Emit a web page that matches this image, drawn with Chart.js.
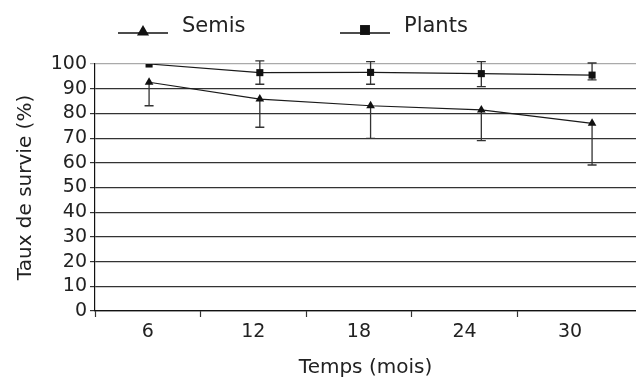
<!DOCTYPE html>
<html>
<head>
<meta charset="utf-8">
<script src="https://cdn.jsdelivr.net/npm/chart.js@4"></script>
<style>
  html, body { margin: 0; padding: 0; background: #fff; overflow: hidden; }
</style>
</head>
<body>
<canvas id="myChart" width="641" height="380"></canvas>
<script>
// values
const months = [6, 12, 18, 24, 30];
const semis = [92.6, 85.8, 83.1, 81.4, 76.0];
const semisLow = [83.1, 74.4, 69.9, 69.0, 59.1];
const plants = [100, 96.5, 96.6, 96.1, 95.5];
const plantsLow = [null, 91.8, 91.8, 90.8, 93.6];
const plantsHigh = [null, 101.3, 101.0, 101.0, 100.4];
const yTicks = [0, 10, 20, 30, 40, 50, 60, 70, 80, 90, 100];

const FONT = "'DejaVu Sans', sans-serif";
const INK = '#222';

// error bars, drawn through the chart scales
const errorBars = {
  id: 'errorBars',
  beforeDatasetsDraw(chart) {
    const ctx = chart.ctx;
    const xs = chart.scales.xd, ys = chart.scales.y;
    const bars = [
      { low: semisLow, high: semis },
      { low: plantsLow, high: plantsHigh }
    ];
    ctx.save();
    ctx.strokeStyle = '#333';
    ctx.lineWidth = 1.3;
    bars.forEach(b => {
      months.forEach((m, i) => {
        if (b.low[i] == null) return;
        const x = xs.getPixelForValue(m);
        const y0 = ys.getPixelForValue(b.low[i]);
        const y1 = ys.getPixelForValue(b.high[i]);
        ctx.beginPath();
        ctx.moveTo(x, y0); ctx.lineTo(x, y1);
        ctx.moveTo(x - 4.5, y0); ctx.lineTo(x + 4.5, y0);
        if (b.high !== semis) { ctx.moveTo(x - 4.5, y1); ctx.lineTo(x + 4.5, y1); }
        ctx.stroke();
      });
    });
    ctx.restore();
  }
};

// legend: line + marker + label, as in the figure
const lineLegend = {
  id: 'lineLegend',
  afterDraw(chart) {
    const ctx = chart.ctx;
    const items = [
      { ds: chart.data.datasets[0], x: 118, my: 32 },
      { ds: chart.data.datasets[1], x: 340, my: 30 }
    ];
    ctx.save();
    items.forEach(it => {
      ctx.strokeStyle = '#111';
      ctx.lineWidth = 1.3;
      ctx.beginPath();
      ctx.moveTo(it.x, 33); ctx.lineTo(it.x + 50, 33);
      ctx.stroke();
      ctx.fillStyle = '#111';
      Chart.helpers.drawPoint(ctx, { pointStyle: it.ds.pointStyle, radius: 7, borderWidth: 0 }, it.x + 25, it.my);
      ctx.fillStyle = INK;
      ctx.font = '21px ' + FONT;
      ctx.textBaseline = 'alphabetic';
      ctx.fillText(it.ds.label, it.x + 64, 32);
    });
    ctx.restore();
  }
};

const dataChart = {
  datasets: [{
    label: 'Semis',
    data: months.map((m, i) => ({ x: m, y: semis[i] })),
    xAxisID: 'xd',
    borderColor: '#1a1a1a',
    borderWidth: 1.2,
    pointStyle: 'triangle',
    pointRadius: 5,
    pointBackgroundColor: '#111',
    pointBorderWidth: 0
  }, {
    label: 'Plants',
    data: months.map((m, i) => ({ x: m, y: plants[i] })),
    xAxisID: 'xd',
    borderColor: '#1a1a1a',
    borderWidth: 1.2,
    pointStyle: 'rect',
    pointRadius: 5,
    pointBackgroundColor: '#111',
    pointBorderWidth: 0
  }]
};

const config = {
  type: 'line',
  data: dataChart,
  options: {
    responsive: false,
    animation: false,
    events: [],
    layout: { padding: { top: 64, right: 0, bottom: 0, left: 0 } },
    plugins: { legend: { display: false }, tooltip: { enabled: false } },
    scales: {
      xd: {
        type: 'linear',
        display: false,
        min: 3.07,
        max: 32.38
      },
      x: {
        type: 'linear',
        position: 'bottom',
        min: 3,
        max: 33.75,
        afterFit: s => { s.height = 69; },
        afterBuildTicks: s => {
          const t = [];
          months.forEach(m => { t.push({ value: m - 3 }); t.push({ value: m }); });
          s.ticks = t;
        },
        border: { display: true, color: '#111', width: 1.2 },
        grid: {
          drawOnChartArea: false,
          tickLength: 6,
          tickWidth: 1.2,
          tickColor: c => (c.tick && months.includes(c.tick.value)) ? 'rgba(0,0,0,0)' : '#333'
        },
        ticks: {
          autoSkip: false,
          maxRotation: 0,
          padding: 4,
          color: INK,
          font: { family: FONT, size: 19 },
          callback: v => months.includes(v) ? String(v) : ''
        },
        title: {
          display: true,
          text: 'Temps (mois)',
          color: INK,
          font: { family: FONT, size: 20 },
          padding: { top: 0, bottom: 0 }
        }
      },
      y: {
        min: 0,
        max: 100,
        afterFit: s => { s.width = 95; },
        afterBuildTicks: s => { s.ticks = yTicks.map(v => ({ value: v })); },
        border: { display: true, color: '#111', width: 1.2 },
        grid: {
          color: c => (c.tick && c.tick.value === 100) ? '#aaa' : '#333',
          lineWidth: 1.2,
          tickLength: 5
        },
        ticks: {
          autoSkip: false,
          padding: 3,
          color: INK,
          font: { family: FONT, size: 19 }
        },
        title: {
          display: true,
          text: 'Taux de survie (%)',
          color: INK,
          font: { family: FONT, size: 20 },
          padding: { top: 14, bottom: 0 }
        }
      }
    }
  },
  plugins: [errorBars, lineLegend]
};

const myChart = new Chart(document.getElementById('myChart'), config);
</script>
</body>
</html>
